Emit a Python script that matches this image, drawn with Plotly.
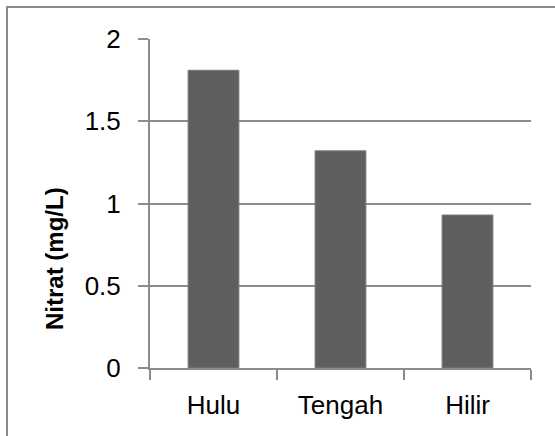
import plotly.graph_objects as go

# Nitrate concentration at three river segments
sites = ["Hulu", "Tengah", "Hilir"]
nitrat = [1.81, 1.32, 0.93]
y_ticks = [0, 0.5, 1, 1.5, 2]
y_tick_text = ["0", "0.5", "1", "1.5", "2"]

W, H = 555, 436
L, R, T, B = 150, 24, 39, 68
plot_w = W - L - R
plot_h = H - T - B

def px_to_paper_x(px):
    return (px - L) / plot_w

def px_to_paper_y(py):
    return (H - B - py) / plot_h

grey = "#8c8c8c"
font = "Liberation Sans, Arial, sans-serif"

fig = go.Figure(
    go.Bar(
        x=sites,
        y=nitrat,
        marker=dict(color="#5f5f5f", line=dict(color="#7a7a7a", width=1)),
    )
)

fig.update_layout(
    width=W,
    height=H,
    margin=dict(l=L, r=R, t=T, b=B),
    paper_bgcolor="white",
    plot_bgcolor="white",
    bargap=0.6,
    showlegend=False,
    font=dict(family=font, size=26, color="black"),
)

fig.update_xaxes(
    type="category",
    tickson="boundaries",
    ticks="outside",
    ticklen=10,
    tickcolor=grey,
    tickwidth=2,
    showline=True,
    linecolor=grey,
    linewidth=2,
    showgrid=False,
    ticklabelstandoff=13,
    tickfont=dict(family=font, size=26, color="black"),
)

fig.update_yaxes(
    range=[0, 2],
    tickvals=y_ticks,
    ticktext=y_tick_text,
    ticks="outside",
    ticklen=10,
    tickcolor=grey,
    tickwidth=2,
    showline=True,
    linecolor=grey,
    linewidth=2,
    showgrid=True,
    gridcolor=grey,
    gridwidth=2,
    zeroline=False,
    ticklabelstandoff=12,
    tickfont=dict(family=font, size=26, color="black"),
)

# Rotated axis title
fig.add_annotation(
    text="<b>Nitrat (mg/L)</b>",
    xref="paper", yref="paper",
    x=px_to_paper_x(54), y=px_to_paper_y(259),
    xanchor="center", yanchor="middle",
    textangle=-90,
    showarrow=False,
    font=dict(family=font, size=24, color="black"),
)

# Chart frame (top and left edges)
frame = dict(color="#8a8a8a", width=2)
fig.add_shape(type="line", xref="paper", yref="paper",
              x0=px_to_paper_x(6), x1=px_to_paper_x(556),
              y0=px_to_paper_y(7), y1=px_to_paper_y(7), line=frame)
fig.add_shape(type="line", xref="paper", yref="paper",
              x0=px_to_paper_x(7), x1=px_to_paper_x(7),
              y0=px_to_paper_y(6), y1=px_to_paper_y(437), line=frame)

fig.write_html("out.html")
